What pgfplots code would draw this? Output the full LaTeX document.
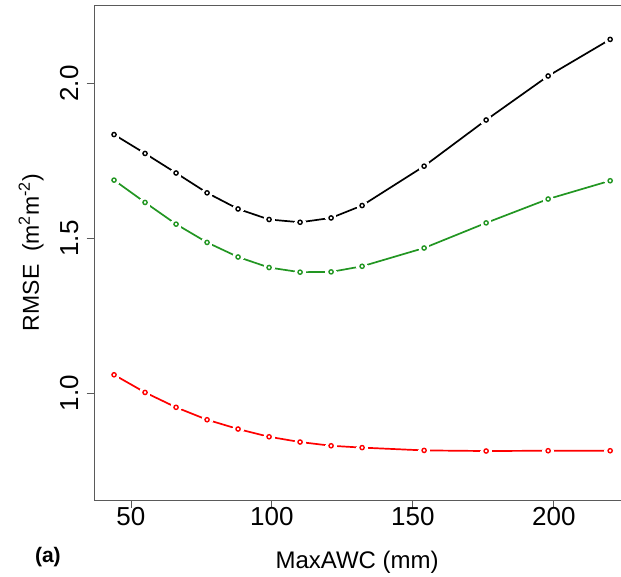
\documentclass[border=0pt]{standalone}
\usepackage{pgfplots}
\pgfplotsset{compat=1.18}
\usepackage{pgfplotstable}
\usepackage{fontspec}
\setmainfont{Liberation Sans}
\definecolor{rgreen}{RGB}{34,150,34}
\definecolor{rred}{RGB}{255,0,0}
\definecolor{axgray}{RGB}{90,90,90}
\pgfplotstableread{
x    black  green  red
44   1.835  1.688  1.060
55   1.774  1.616  1.003
66   1.711  1.546  0.955
77   1.647  1.487  0.915
88   1.595  1.440  0.885
99   1.561  1.406  0.860
110  1.552  1.391  0.843
121  1.566  1.392  0.831
132  1.606  1.410  0.825
154  1.733  1.469  0.816
176  1.882  1.550  0.814
198  2.024  1.627  0.815
220  2.142  1.686  0.815
}\datatable
\begin{document}
\begin{tikzpicture}
\begin{axis}[name=ax, at={(0,0)}, anchor=south west,
  scale only axis, width=535.8pt, height=495pt,
  xmin=36.96, xmax=227.04, ymin=0.656, ymax=2.253,
  axis line style={axgray, line width=0.9pt},
  xtick={50,100,150,200}, xticklabels={50,100,150,200},
  ytick={1.0,1.5,2.0}, yticklabels={1.0,1.5,2.0},
  tick align=outside, tick pos=left, major tick length=7.5pt,
  tick style={axgray, line width=0.9pt},
  ticklabel style={font=\fontsize{26}{26}\selectfont, text=black},
  xticklabel style={anchor=north, inner sep=0pt},
  yticklabel style={rotate=90, anchor=south, inner sep=0pt},
  yticklabel shift=8pt,
]
\addplot[black, line width=1.7pt, mark=none] table[x=x, y=black] {\datatable};
\addplot[white, only marks, mark=*, mark size=5.5pt, mark options={fill=white, draw=white, line width=0pt}] table[x=x, y=black] {\datatable};
\addplot[black, only marks, mark=o, mark size=2.1pt, mark options={black, line width=1.4pt}] table[x=x, y=black] {\datatable};
\addplot[rgreen, line width=1.7pt, mark=none] table[x=x, y=green] {\datatable};
\addplot[white, only marks, mark=*, mark size=5.5pt, mark options={fill=white, draw=white, line width=0pt}] table[x=x, y=green] {\datatable};
\addplot[rgreen, only marks, mark=o, mark size=2.1pt, mark options={rgreen, line width=1.4pt}] table[x=x, y=green] {\datatable};
\addplot[rred, line width=1.7pt, mark=none] table[x=x, y=red] {\datatable};
\addplot[white, only marks, mark=*, mark size=5.5pt, mark options={fill=white, draw=white, line width=0pt}] table[x=x, y=red] {\datatable};
\addplot[rred, only marks, mark=o, mark size=2.1pt, mark options={rred, line width=1.4pt}] table[x=x, y=red] {\datatable};
\end{axis}
\node[anchor=base, font=\fontsize{24}{24}\selectfont] at ([xshift=-5pt, yshift=-68pt]ax.south) {MaxAWC (mm)};
\node[rotate=90, anchor=base, font=\fontsize{23}{23}\selectfont] at ([xshift=-55.2pt]ax.west) {RMSE\ \ (m\textsuperscript{2}m\textsuperscript{-2})};
\node[anchor=base west, font=\bfseries\fontsize{21}{21}\selectfont] at ([xshift=-62.7pt, yshift=-62pt]ax.south west) {(a)};
\pgfresetboundingbox
\path[use as bounding box] ([xshift=-94.2pt, yshift=-76pt]ax.south west) rectangle ([xshift=526.8pt, yshift=500pt]ax.south west);
\end{tikzpicture}
\end{document}
